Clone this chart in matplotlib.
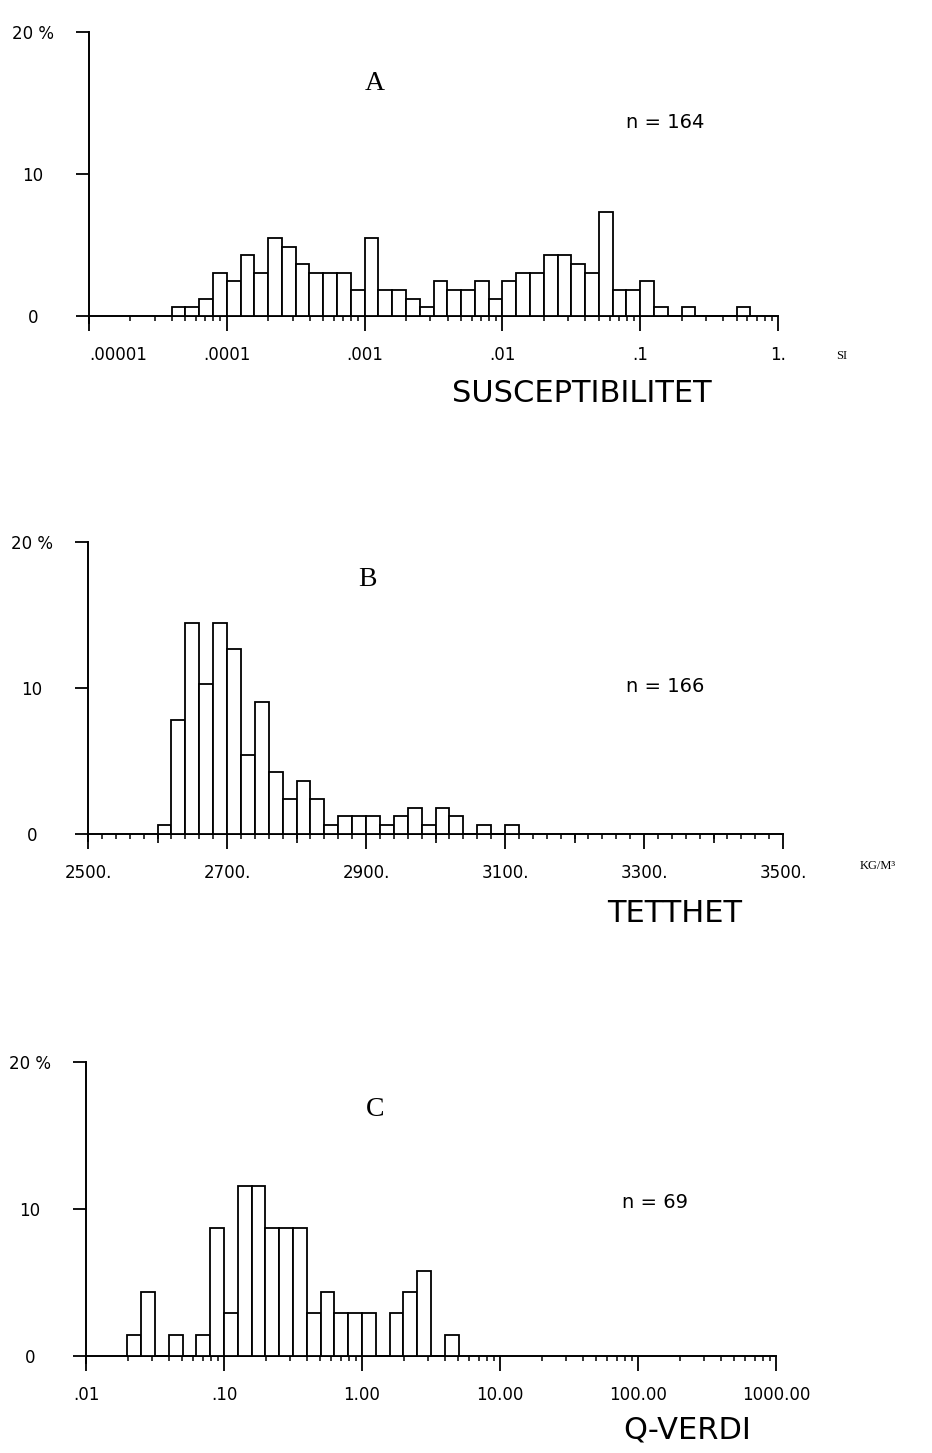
import numpy as np
import matplotlib
matplotlib.use("Agg")
import matplotlib.pyplot as plt
from matplotlib.ticker import FixedLocator, FixedFormatter, NullFormatter, LogLocator

# ---------------- data ----------------
# A: magnetic susceptibility (SI), histogram in 0.1-decade bins starting at 10^-4.4
sus_n = 164
sus_edge_start_exp = -4.4
sus_bin_decades = 0.1
sus_counts = [1, 1, 2, 5,
              4, 7, 5, 9, 8, 6, 5, 5, 5, 3,
              9, 3, 3, 2, 1, 4, 3, 3, 4, 2,
              4, 5, 5, 7, 7, 6, 5, 12, 3, 3,
              4, 1, 0, 1, 0, 0, 0, 1]
sus_ticks = [1e-5, 1e-4, 1e-3, 1e-2, 1e-1, 1.0]
sus_ticklabels = [".00001", ".0001", ".001", ".01", ".1", "1."]

# B: density (kg/m3), 20 kg/m3 bins starting at 2600
den_n = 166
den_edge_start = 2600
den_bin = 20
den_counts = [1, 13, 24, 17, 24, 21, 9, 15, 7, 4, 6, 4, 1,
              2, 2, 2, 1, 2, 3, 1, 3, 2, 0, 1, 0, 1]
den_ticks = [2500, 2700, 2900, 3100, 3300, 3500]
den_ticklabels = ["2500.", "2700.", "2900.", "3100.", "3300.", "3500."]
den_mid_ticks = [2600, 2800, 3000, 3200, 3400]

# C: Q-value, 0.1-decade bins starting at 10^-1.7
q_n = 69
q_edge_start_exp = -1.7
q_bin_decades = 0.1
q_counts = [1, 3, 0, 1, 0, 1, 6, 2, 8, 8, 6, 6, 6, 2, 3, 2, 2, 2, 0, 2, 3, 4, 0, 1]
q_ticks = [0.01, 0.1, 1.0, 10.0, 100.0, 1000.0]
q_ticklabels = [".01", ".10", "1.00", "10.00", "100.00", "1000.00"]

y_ticks = [0, 10, 20]
y_ticklabels = ["0", "10", "20 %"]

# ---------------- figure ----------------
W, H = 932, 1453
fig = plt.figure(figsize=(W / 100, H / 100), dpi=100)
fig.patch.set_facecolor("white")

SANS = ["DejaVu Sans"]
SERIF = ["Liberation Serif", "DejaVu Serif"]


def rect(l, r, t, b):
    return [l / W, 1 - b / H, (r - l) / W, (b - t) / H]


def ftext(x, y, s, **kw):
    fig.text(x / W, 1 - y / H, s, **kw)


def style_axes(ax):
    ax.set_ylim(-0.5, 20)
    for sp in ("top", "right"):
        ax.spines[sp].set_visible(False)
    ax.spines["bottom"].set_position(("data", 0))
    ax.spines["bottom"].set_linewidth(1.4)
    ax.spines["left"].set_linewidth(1.4)
    ax.yaxis.set_major_locator(FixedLocator(y_ticks))
    ax.yaxis.set_major_formatter(FixedFormatter(y_ticklabels))
    ax.tick_params(axis="y", direction="out", length=9.4, width=1.3,
                   pad=31, labelsize=12)
    for lab in ax.get_yticklabels():
        lab.set_horizontalalignment("center")
        lab.set_family(SANS)
    ax.tick_params(axis="x", which="major", direction="out", length=10.5,
                   width=1.3, pad=11, labelsize=12)
    ax.tick_params(axis="x", which="minor", direction="out", length=3.6,
                   width=1.1)
    ax.set_facecolor("none")


def draw_hist(ax, edges, counts, n):
    edges = np.asarray(edges, dtype=float)
    pct = 100.0 * np.asarray(counts, dtype=float) / n
    ax.bar(edges[:-1], pct, width=np.diff(edges), align="edge",
           facecolor="white", edgecolor="black", linewidth=1.3, zorder=3)


# ---------- Panel A ----------
axA = fig.add_axes(rect(89, 778, 32, 323.1))
sus_edges = 10.0 ** (sus_edge_start_exp + sus_bin_decades * np.arange(len(sus_counts) + 1))
axA.set_xscale("log")
draw_hist(axA, sus_edges, sus_counts, sus_n)
axA.set_xlim(sus_ticks[0], sus_ticks[-1])
style_axes(axA)
axA.xaxis.set_major_locator(FixedLocator(sus_ticks))
axA.xaxis.set_major_formatter(FixedFormatter(sus_ticklabels))
axA.xaxis.set_minor_locator(LogLocator(base=10, subs=np.arange(2, 10), numticks=20))
axA.xaxis.set_minor_formatter(NullFormatter())
labsA = axA.get_xticklabels()
labsA[0].set_horizontalalignment("left")

ftext(375, 83, "A", fontsize=20, family=SERIF, ha="center", va="center")
ftext(665, 122, "n = 164", fontsize=14, family=SANS, ha="center", va="center")
ftext(582, 394, "SUSCEPTIBILITET", fontsize=22, family=SANS, ha="center", va="center")
ftext(842, 356, "SI", fontsize=9, family=SERIF, ha="center", va="center")

# ---------- Panel B ----------
axB = fig.add_axes(rect(88, 783, 542, 841.3))
den_edges = den_edge_start + den_bin * np.arange(len(den_counts) + 1)
draw_hist(axB, den_edges, den_counts, den_n)
axB.set_xlim(den_ticks[0], den_ticks[-1])
style_axes(axB)
axB.xaxis.set_major_locator(FixedLocator(den_ticks))
axB.xaxis.set_major_formatter(FixedFormatter(den_ticklabels))
axB.xaxis.set_minor_locator(FixedLocator(np.arange(den_ticks[0], den_ticks[-1] + 1, den_bin)))
secB = axB.secondary_xaxis(0.5 / 20.5)
secB.xaxis.set_major_locator(FixedLocator(den_mid_ticks))
secB.tick_params(axis="x", direction="out", length=6.5, width=1.2, labelbottom=False)
for sp in secB.spines.values():
    sp.set_visible(False)

ftext(367, 580, "B", fontsize=20, family=SERIF, ha="center", va="center")
ftext(665, 686, "n = 166", fontsize=14, family=SANS, ha="center", va="center")
ftext(675, 914, "TETTHET", fontsize=22, family=SANS, ha="center", va="center")
ftext(860, 866, "KG/M³", fontsize=9, family=SERIF, ha="left", va="center")

# ---------- Panel C ----------
axC = fig.add_axes(rect(86, 776, 1062, 1363.4))
q_edges = 10.0 ** (q_edge_start_exp + q_bin_decades * np.arange(len(q_counts) + 1))
axC.set_xscale("log")
draw_hist(axC, q_edges, q_counts, q_n)
axC.set_xlim(q_ticks[0], q_ticks[-1])
style_axes(axC)
axC.xaxis.set_major_locator(FixedLocator(q_ticks))
axC.xaxis.set_major_formatter(FixedFormatter(q_ticklabels))
axC.xaxis.set_minor_locator(LogLocator(base=10, subs=np.arange(2, 10), numticks=20))
axC.xaxis.set_minor_formatter(NullFormatter())

ftext(375, 1110, "C", fontsize=20, family=SERIF, ha="center", va="center")
ftext(655, 1202, "n = 69", fontsize=14, family=SANS, ha="center", va="center")
ftext(687, 1430, "Q-VERDI", fontsize=22, family=SANS, ha="center", va="center")

for ax in (axA, axB, axC):
    for lab in ax.get_xticklabels():
        lab.set_family(SANS)

fig.savefig("out.png", dpi=100, facecolor="white")
